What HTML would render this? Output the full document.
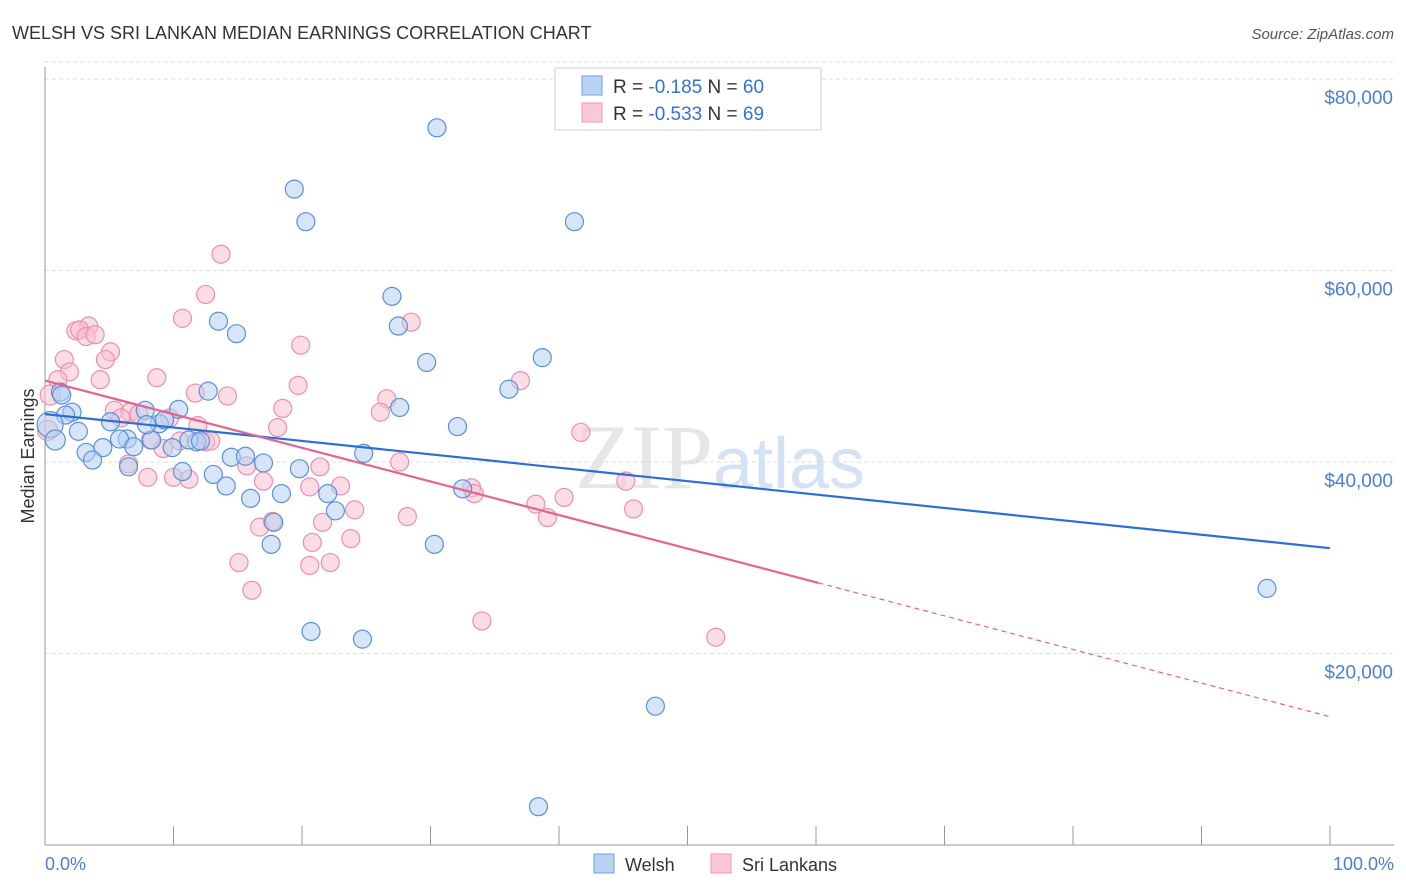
<!DOCTYPE html>
<html><head><meta charset="utf-8">
<style>
body{margin:0;background:#fff;font-family:"Liberation Sans",sans-serif;}
svg{display:block}
</style></head>
<body>
<svg id="chart" width="1406" height="892" xmlns="http://www.w3.org/2000/svg" font-family="Liberation Sans, sans-serif">
<text x="12" y="39" font-size="18" fill="#333">WELSH VS SRI LANKAN MEDIAN EARNINGS CORRELATION CHART</text>
<text x="1394" y="39" font-size="15" fill="#555" text-anchor="end" font-style="italic">Source: ZipAtlas.com</text>
<text x="720" y="488" font-size="92" text-anchor="middle" fill="#e6e6e6" font-family="Liberation Serif, serif">ZIP<tspan fill="#d3e3f5" font-family="Liberation Sans, sans-serif" font-size="72">atlas</tspan></text>
<g id="grid"></g>
<g id="axes"></g>
<g id="pts"></g>
<g id="lines"></g>
<text transform="translate(34,456) rotate(-90)" font-size="18" fill="#333" text-anchor="middle">Median Earnings</text>
<text x="45" y="870" font-size="18" fill="#4a7fd4">0.0%</text>
<text x="1394" y="870" font-size="18" fill="#4a7fd4" text-anchor="end">100.0%</text>
<g>
<rect x="555" y="68" width="266" height="62" fill="#fff" stroke="#ccc"/>
<rect x="582" y="76" width="20" height="19" fill="#b9d3f5" stroke="#6f9fe0"/>
<rect x="582" y="103" width="20" height="19" fill="#fbc8d7" stroke="#ec98b2"/>
<text x="613" y="93" font-size="19" fill="#333">R = <tspan fill="#3571d6">-0.185</tspan>   N = <tspan fill="#3571d6">60</tspan></text>
<text x="613" y="120" font-size="19" fill="#333">R = <tspan fill="#3571d6">-0.533</tspan>   N = <tspan fill="#3571d6">69</tspan></text>
</g>
<g>
<rect x="594" y="854" width="20" height="19" fill="#b9d3f5" stroke="#6f9fe0"/>
<text x="625" y="871" font-size="18" fill="#333">Welsh</text>
<rect x="711" y="854" width="20" height="19" fill="#fbc8d7" stroke="#ec98b2"/>
<text x="742" y="871" font-size="18" fill="#333">Sri Lankans</text>
</g>
</svg>
<script>
const yTicks=[20000,40000,60000,80000];
const yTickLabels=["$20,000","$40,000","$60,000","$80,000"];
const welshX=[30.5,19.4,20.3,41.2,27.0,13.5,14.9,27.5,29.7,38.7,12.7,36.1,1.2,2.1,1.6,10.4,7.8,27.6,5.1,8.9,2.6,32.1,6.4,8.3,5.8,11.8,11.2,12.1,3.2,4.5,6.9,9.9,14.5,15.6,24.8,3.7,17.0,6.5,10.7,19.8,13.1,14.1,16.0,18.4,22.0,32.5,22.6,17.8,17.6,30.3,95.1,20.7,24.7,47.5,38.4,0.4,0.8,1.3,7.9,9.3];
const welshY=[74.9,68.5,65.1,65.1,57.3,54.7,53.4,54.2,50.4,50.9,47.4,47.6,47.3,45.2,44.9,45.5,45.4,45.7,44.2,44.0,43.2,43.7,42.4,42.3,42.4,42.1,42.3,42.2,41.0,41.5,41.6,41.5,40.5,40.6,40.9,40.2,39.9,39.5,39.0,39.3,38.7,37.5,36.2,36.7,36.7,37.2,34.9,33.7,31.4,31.4,26.8,22.3,21.5,14.5,4.0,43.9,42.3,47.0,43.9,44.4];
const sriX=[13.7,12.5,10.7,28.5,3.4,2.4,2.7,3.2,3.9,19.9,5.1,1.5,4.7,1.9,4.3,8.7,19.7,37.0,11.7,14.2,26.6,18.5,26.1,5.4,6.6,7.3,5.9,9.7,11.9,18.1,8.2,12.5,10.5,12.9,9.2,1.0,0.2,15.7,21.4,27.6,41.7,6.5,8.0,10.0,11.2,23.0,17.0,20.6,33.2,33.4,45.2,40.4,38.2,24.1,45.8,28.2,21.6,39.1,16.7,17.7,23.8,20.8,15.1,20.6,22.2,16.1,34.0,52.2,0.4];
const sriY=[61.7,57.5,55.0,54.6,54.2,53.7,53.8,53.1,53.3,52.2,51.5,50.7,50.7,49.4,48.6,48.8,48.0,48.5,47.2,46.9,46.6,45.6,45.2,45.4,45.2,45.0,44.6,44.6,43.8,43.6,42.3,42.1,42.2,42.2,41.4,48.6,43.3,39.6,39.5,40.0,43.1,39.8,38.4,38.4,38.2,37.5,38.0,37.4,37.3,36.7,38.0,36.3,35.6,35.0,35.1,34.3,33.7,34.2,33.2,33.8,32.0,31.6,29.5,29.2,29.5,26.6,23.4,21.7,47.0];
const welshTrend=[45.0,31.0];
const sriTrend=[48.5,13.4];
const sriSolidEnd=60.2;
const NS="http://www.w3.org/2000/svg";
const X=v=>45+v*12.85;
const Y=v=>845-v*9.575;
function mk(t,a,p){const e=document.createElementNS(NS,t);for(const k in a)e.setAttribute(k,a[k]);p.appendChild(e);return e;}
const grid=document.getElementById('grid'),axes=document.getElementById('axes'),pts=document.getElementById('pts'),lines=document.getElementById('lines');
const gt=mk('line',{x1:45,x2:1394,y1:Y(80)-17,y2:Y(80)-17,stroke:'#ddd','stroke-dasharray':'4,3'},grid);


yTicks.forEach((t,i)=>{
 const y=Y(t/1000);
 const l=mk('line',{x1:45,x2:1394,y1:y,y2:y,stroke:'#ddd','stroke-dasharray':'4,3'},grid);
 
 
 const tx=mk('text',{x:1393,y:y+25,'font-size':19,fill:'#4a7fd4','text-anchor':'end'},grid);
 tx.textContent=yTickLabels[i];
 
 
});
const ya=mk('line',{x1:45,x2:45,y1:67,y2:845,stroke:'#999'},axes);


const xa=mk('line',{x1:45,x2:1394,y1:845,y2:845,stroke:'#999'},axes);


for(let i=0;i<=10;i++){const tk=mk('line',{x1:X(i*10),x2:X(i*10),y1:826,y2:845,stroke:'#999'},axes);
 
 }
function dots(xs,ys,fill,stroke,name){xs.forEach((x,i)=>{
 const c=mk('circle',{cx:X(x),cy:Y(ys[i]),r:x<1?(i%2?13:10):9,fill:fill,'fill-opacity':0.55,stroke:stroke,'stroke-width':1.2},pts);
 
 });}
dots(sriX,sriY,'#f9bfd0','#ec8fae','sri-lankan-point');
dots(welshX,welshY,'#b5cff2','#5a90dc','welsh-point');
const bl=mk('line',{x1:X(0),y1:Y(welshTrend[0]),x2:X(100),y2:Y(welshTrend[1]),stroke:'#2a6fd6','stroke-width':2.2},lines);


const sAt=v=>sriTrend[0]+(sriTrend[1]-sriTrend[0])*v/100;
const pl=mk('line',{x1:X(0),y1:Y(sAt(0)),x2:X(sriSolidEnd),y2:Y(sAt(sriSolidEnd)),stroke:'#e4648f','stroke-width':2.2},lines);


const pd=mk('line',{x1:X(sriSolidEnd),y1:Y(sAt(sriSolidEnd)),x2:X(100),y2:Y(sAt(100)),stroke:'#e4648f','stroke-width':1.2,'stroke-dasharray':'5,4'},lines);


</script>
</body></html>
